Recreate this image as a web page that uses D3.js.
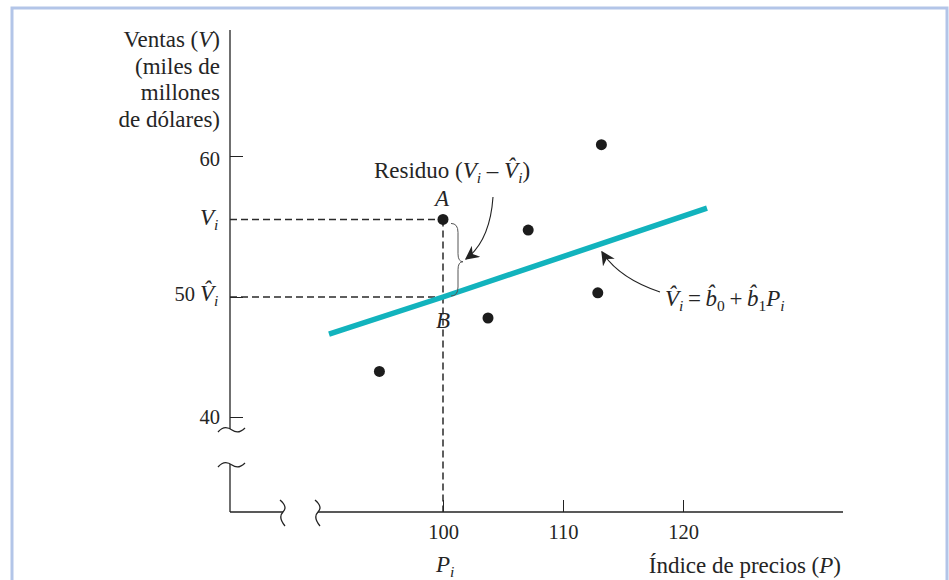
<!DOCTYPE html>
<html><head><meta charset="utf-8">
<script src="https://cdn.jsdelivr.net/npm/d3@7"></script>
<style>
html,body{margin:0;padding:0;background:#fff;}
svg{display:block;}
</style>
</head><body>
<svg id="chart" width="949" height="580"></svg>
<script>
// ---- data ----
const xTicks = [100, 110, 120];
const yTicks = [40, 50, 60];
const pointsP = [94.7, 100, 103.75, 107.1, 112.9, 113.2];
const pointsV = [43.8, 55.5, 48.25, 54.75, 50.3, 60.8];
const fitP = [90.5, 100, 122];
const fitV = [46.9, 50, 56.3];
const Pi = 100, Vi = 55.5, ViHat = 50;
const yLabelLines = ["Ventas (", "(miles de", "millones", "de dólares)"];

const svg = d3.select("#chart");
const FONT = "'Liberation Serif','Times New Roman',serif";
const TXT = "#252525";

// frame
svg.append("rect").attr("x", 12).attr("y", 8).attr("width", 935).attr("height", 620)
  .attr("fill", "none").attr("stroke", "#b3c5e8").attr("stroke-width", 3);

// scales
const x = d3.scaleLinear().domain([100, 120]).range([443, 683]);
const y = d3.scaleLinear().domain([40, 50, 60]).range([417, 297, 156]);
const X0 = 230, Y0 = 512;

// axes (ticks + labels)
const gx = svg.append("g").attr("transform", `translate(0,${Y0})`)
  .call(d3.axisBottom(x).tickValues(xTicks).tickSize(-12).tickPadding(12));
gx.select(".domain").remove();
gx.attr("font-family", FONT).attr("font-size", 20.5).attr("color", "#222");
gx.selectAll("text").attr("fill", TXT);

const gy = svg.append("g").attr("transform", `translate(${X0},0)`)
  .call(d3.axisLeft(y).tickValues(yTicks).tickSize(-13).tickPadding(10));
gy.select(".domain").remove();
gy.attr("font-family", FONT).attr("font-size", 20.5).attr("color", "#222");
gy.selectAll("text").attr("fill", TXT);
gy.selectAll(".tick").filter(d => d === 50).select("text").attr("x", -35).attr("dy", "0.18em");
gy.selectAll(".tick").filter(d => d === 60).select("text").attr("dy", "0.45em");

// axis lines with breaks
const axis = svg.append("g").attr("stroke", "#222").attr("stroke-width", 1.3).attr("fill", "none");
axis.append("line").attr("x1", X0).attr("x2", X0).attr("y1", 30).attr("y2", 429);
axis.append("line").attr("x1", X0).attr("x2", X0).attr("y1", 464).attr("y2", Y0);
axis.append("line").attr("x1", X0).attr("x2", 283).attr("y1", Y0).attr("y2", Y0);
axis.append("line").attr("x1", 318).attr("x2", 843).attr("y1", Y0).attr("y2", Y0);
// break squiggles
[430, 465].forEach(yy => {
  axis.append("path").attr("d", `M218,${yy+2} C223,${yy-4} 228,${yy-3} 232,${yy} S240,${yy+3} 245,${yy-2}`);
});
[283, 318].forEach(xx => {
  axis.append("path").attr("d", `M${xx-3},${Y0-12} C${xx+3},${Y0-7} ${xx+3},${Y0-3} ${xx},${Y0} S${xx-3},${Y0+8} ${xx+2},${Y0+14}`);
});

// dashed guides
const dash = svg.append("g").attr("stroke", "#2a2a2a").attr("stroke-width", 1.5).attr("stroke-dasharray", "7,4");
dash.append("line").attr("x1", X0).attr("x2", x(Pi)).attr("y1", y(Vi)).attr("y2", y(Vi));
dash.append("line").attr("x1", X0).attr("x2", x(Pi)).attr("y1", y(ViHat)).attr("y2", y(ViHat));
dash.append("line").attr("x1", x(Pi)).attr("x2", x(Pi)).attr("y1", y(Vi)).attr("y2", Y0);

// regression line
const fit = fitP.map((p, i) => [p, fitV[i]]);
svg.append("path").datum(fit)
  .attr("d", d3.line().x(d => x(d[0])).y(d => y(d[1])))
  .attr("fill", "none").attr("stroke", "#12b3bd").attr("stroke-width", 5.5);

// points
svg.append("g").selectAll("circle").data(pointsP.map((p, i) => [p, pointsV[i]]))
  .join("circle").attr("cx", d => x(d[0])).attr("cy", d => y(d[1])).attr("r", 5.5).attr("fill", "#1c1c1c");

// brace
const bx = x(Pi) + 8, bt = y(Vi) + 4, bb = y(ViHat) - 1, bm = (bt + bb) / 2 + 2;
svg.append("path")
  .attr("d", `M${bx},${bt} Q${bx+7},${bt} ${bx+7},${bt+9} L${bx+7},${bm-8} Q${bx+7},${bm} ${bx+12},${bm} Q${bx+7},${bm} ${bx+7},${bm+8} L${bx+7},${bb-9} Q${bx+7},${bb} ${bx},${bb}`)
  .attr("fill", "none").attr("stroke", "#555").attr("stroke-width", 1);

// arrow marker
svg.append("defs").append("marker").attr("id", "ah").attr("viewBox", "0 0 10 10")
  .attr("refX", 9).attr("refY", 5).attr("markerWidth", 14).attr("markerHeight", 14)
  .attr("markerUnits", "userSpaceOnUse").attr("orient", "auto")
  .append("path").attr("d", "M0,0 L10,5 L0,10 L3,5 Z").attr("fill", "#222");

svg.append("path").attr("d", "M493,197 C491,226 483,246 466,259")
  .attr("fill", "none").attr("stroke", "#222").attr("stroke-width", 1.1).attr("marker-end", "url(#ah)");
svg.append("path").attr("d", "M660,292 C636,284 615,272 602,252")
  .attr("fill", "none").attr("stroke", "#222").attr("stroke-width", 1.1).attr("marker-end", "url(#ah)");

// text helpers
const T = svg.append("g").attr("font-family", FONT).attr("font-size", 23).attr("fill", TXT);
function sub(t, s, it = true) {
  t.append("tspan").attr("baseline-shift", -5).attr("font-size", 15.5)
    .attr("font-style", it ? "italic" : "normal").text(s);
}

// y label
yLabelLines.forEach((s, i) => {
  const t = T.append("text").attr("x", 220).attr("y", 47 + i * 26.5).attr("text-anchor", "end");
  t.append("tspan").text(s);
  if (i === 0) { t.append("tspan").attr("font-style", "italic").text("V"); t.append("tspan").text(")"); }
});

// V_i label
{
  const t = T.append("text").attr("x", 200).attr("y", y(Vi) + 6);
  t.append("tspan").attr("font-style", "italic").text("V");
  sub(t, "i");
}
// V-hat_i label
{
  const t = T.append("text").attr("x", 200).attr("y", y(ViHat) + 4);
  t.append("tspan").attr("font-style", "italic").text("V\u0302");
  sub(t, "i");
}

// A, B
T.append("text").attr("x", x(Pi) - 1).attr("y", y(Vi) - 13).attr("text-anchor", "middle").attr("font-style", "italic").text("A");
T.append("text").attr("x", x(Pi)).attr("y", y(ViHat) + 31).attr("text-anchor", "middle").attr("font-style", "italic").text("B");

// Residuo
{
  const t = T.append("text").attr("x", 452).attr("y", 178).attr("text-anchor", "middle");
  t.append("tspan").text("Residuo (");
  t.append("tspan").attr("font-style", "italic").text("V");
  sub(t, "i");
  t.append("tspan").text(" \u2013 ");
  t.append("tspan").attr("font-style", "italic").text("V\u0302");
  sub(t, "i");
  t.append("tspan").text(")");
}

// regression formula
{
  const t = T.append("text").attr("x", 665).attr("y", 306);
  t.append("tspan").attr("font-style", "italic").text("V\u0302");
  sub(t, "i");
  t.append("tspan").text("\u2009=\u2009");
  t.append("tspan").attr("font-style", "italic").text("b\u0302");
  sub(t, "0", false);
  t.append("tspan").text("\u2009+\u2009");
  t.append("tspan").attr("font-style", "italic").text("b\u0302");
  sub(t, "1", false);
  t.append("tspan").attr("font-style", "italic").text("P");
  sub(t, "i");
}

// P_i under axis
{
  const t = T.append("text").attr("x", x(Pi) - 7).attr("y", 572);
  t.append("tspan").attr("font-style", "italic").text("P");
  sub(t, "i");
}
// x axis title
{
  const t = T.append("text").attr("x", 841).attr("y", 573).attr("text-anchor", "end");
  t.append("tspan").text("Índice de precios (");
  t.append("tspan").attr("font-style", "italic").text("P");
  t.append("tspan").text(")");
}
</script>
</body></html>
